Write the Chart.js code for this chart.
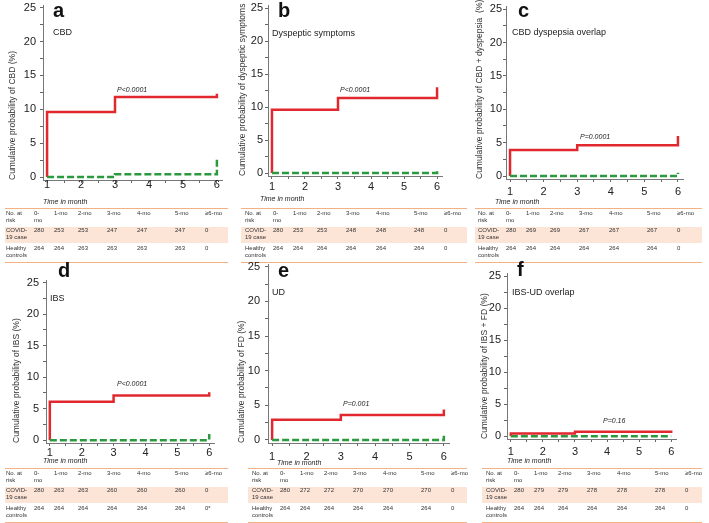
<!DOCTYPE html>
<html><head><meta charset="utf-8">
<script src="https://cdn.jsdelivr.net/npm/chart.js@4.4.0/dist/chart.umd.min.js"></script>
<style>
body{margin:0;width:709px;height:523px;background:#fff;position:relative;overflow:hidden;font-family:'Liberation Sans',Arial,sans-serif;}
canvas{position:absolute;}
.t{position:absolute;white-space:nowrap;line-height:1;transform:translateY(-50%);color:#222;}
.risk{position:absolute;border-collapse:collapse;table-layout:fixed;font-family:'Liberation Sans',Arial,sans-serif;font-size:6px;line-height:7px;color:#333;
  border-top:1px solid #f4b183;border-bottom:1px solid #f4b183;}
.risk td{vertical-align:top;padding:1px 0 0 0;white-space:pre;}
.risk tr.h td{height:17px;}
.risk tr.c td{height:16px;background:#fce4d6;padding-top:0;}
.risk tr.k td{height:17px;padding-top:2px;}
</style></head><body>
<script>
// ---------- data ----------
const X_TICK_LABELS = [1, 2, 3, 4, 5, 6];
const Y_TICK_LABELS = [0, 5, 10, 15, 20, 25];
const PANEL_LETTERS = ['a', 'b', 'c', 'd', 'e', 'f'];
const PANEL_TITLES = ['CBD', 'Dyspeptic symptoms', 'CBD dyspepsia overlap', 'IBS', 'UD', 'IBS-UD overlap'];
const Y_TITLES = [
  'Cumulative probability of CBD (%)',
  'Cumulative probability of dyspeptic symptoms  (%)',
  'Cumulative probability of CBD + dyspepsia  (%)',
  'Cumulative probability of IBS (%)',
  'Cumulative probability of FD (%)',
  'Cumulative probability of IBS + FD (%)'
];
const P_VALUES = ['P<0.0001', 'P<0.0001', 'P=0.0001', 'P<0.0001', 'P=0.001', 'P=0.16'];
const X_TITLE = 'Time in month';

// step times (month) and cumulative probabilities (%)
const COVID_TIMES = [1, 1, 3, 6];
const CONTROL_TIMES = [1, 3, 6];
const COVID_A = [0, 9.6, 11.8, 12.3];
const CONTROL_A = [0, 0.4, 2.7];
const COVID_B = [0, 9.6, 11.4, 13.0];
const CONTROL_B = [0, 0, 0.5];
const COVID_C = [0, 3.9, 4.6, 6.0];
const CONTROL_C = [0, 0, 0.5];
const COVID_D = [0, 6.1, 7.1, 7.6];
const CONTROL_D = [0, 0, 1.0];
const COVID_E = [0, 2.9, 3.6, 4.4];
const CONTROL_E = [0, 0, 0.6];
const COVID_F = [0, 0.4, 0.7, 0.9];
const CONTROL_F = [0, 0, 0];

// number at risk tables
const RISK_COLUMNS = ['No. at\nrisk', '0-\nmo', '1-mo', '2-mo', '3-mo', '4-mo', '5-mo', '≥6-mo'];
const RISK_ROW_LABELS = ['COVID-\n19 case', 'Healthy\ncontrols'];
const RISK_COVID_A = [280, 253, 253, 247, 247, 247, 0];
const RISK_CONTROL_A = [264, 264, 263, 263, 263, 263, 0];
const RISK_COVID_B = [280, 253, 253, 248, 248, 248, 0];
const RISK_CONTROL_B = [264, 264, 264, 264, 264, 264, 0];
const RISK_COVID_C = [280, 269, 269, 267, 267, 267, 0];
const RISK_CONTROL_C = [264, 264, 264, 264, 264, 264, 0];
const RISK_COVID_D = [280, 263, 263, 260, 260, 260, 0];
const RISK_CONTROL_D = [264, 264, 264, 264, 264, 264, '0*'];
const RISK_COVID_E = [280, 272, 272, 270, 270, 270, 0];
const RISK_CONTROL_E = [264, 264, 264, 264, 264, 264, 0];
const RISK_COVID_F = [280, 279, 279, 278, 278, 278, 0];
const RISK_CONTROL_F = [264, 264, 264, 264, 264, 264, 0];

// ---------- layout / style ----------
const RED = '#e0282e', GREEN = '#2b9a3e';
const FONT = "'Liberation Sans', Arial, sans-serif";
const PANELS = [
  {covid: COVID_A, ctrl: CONTROL_A, rc: RISK_COVID_A, rk: RISK_CONTROL_A,
   box: {l: 0, t: 0, w: 235, h: 215}, area: {l: 43, r: 222, t: 5, b: 180}, xpad: -5, ypad: 4, ytx: 13,
   letter: [53, 10], title: [53, 32], p: [117, 89], xt: [43, 201], table: {l: 5, t: 208, w: 223, pl: 1}},
  {covid: COVID_B, ctrl: CONTROL_B, rc: RISK_COVID_B, rk: RISK_CONTROL_B,
   box: {l: 235, t: 0, w: 235, h: 215}, area: {l: 268, r: 442, t: 5.5, b: 176}, xpad: 1.4, ypad: 2, ytx: 8,
   letter: [278, 10], title: [272, 33], p: [340, 89], xt: [260, 198], table: {l: 241, t: 208, w: 226, pl: 4}},
  {covid: COVID_C, ctrl: CONTROL_C, rc: RISK_COVID_C, rk: RISK_CONTROL_C,
   box: {l: 470, t: 0, w: 239, h: 215}, area: {l: 506, r: 683, t: 6.4, b: 179}, xpad: 3.4, ypad: 1, ytx: 10,
   letter: [518, 10], title: [512, 32], p: [580, 136], xt: [495, 201], table: {l: 475, t: 208, w: 227, pl: 3}},
  {covid: COVID_D, ctrl: CONTROL_D, rc: RISK_COVID_D, rk: RISK_CONTROL_D,
   box: {l: 0, t: 260, w: 235, h: 215}, area: {l: 46, r: 214, t: 280, b: 443}, xpad: 0.4, ypad: 4, ytx: 17,
   letter: [58, 270], title: [50, 298], p: [117, 383], xt: [43, 460], table: {l: 5, t: 468, w: 223, pl: 1}},
  {covid: COVID_E, ctrl: CONTROL_E, rc: RISK_COVID_E, rk: RISK_CONTROL_E,
   box: {l: 235, t: 260, w: 235, h: 215}, area: {l: 268, r: 449, t: 264, b: 443}, xpad: 4.4, ypad: 5, ytx: 7,
   letter: [278, 270], title: [272, 292], p: [343, 403], xt: [277, 462], table: {l: 248, t: 468, w: 219, pl: 4}},
  {covid: COVID_F, ctrl: CONTROL_F, rc: RISK_COVID_F, rk: RISK_CONTROL_F,
   box: {l: 470, t: 260, w: 239, h: 215}, area: {l: 507, r: 676, t: 273.6, b: 439}, xpad: 3.4, ypad: 3, ytx: 15,
   letter: [517, 269], title: [512, 292], p: [603, 420], xt: [507, 460], table: {l: 482, t: 468, w: 220, pl: 4}}
];
const COL_W = [28, 20, 24, 29, 30, 38, 30];

function withMinor(arr) {
  const out = [];
  arr.forEach((v, k) => { out.push(v); if (k < arr.length - 1) out.push((v + arr[k + 1]) / 2); });
  return out;
}

function addText(txt, x, y, css) {
  const d = document.createElement('div');
  d.className = 't';
  d.textContent = txt;
  d.style.left = x + 'px';
  d.style.top = y + 'px';
  Object.assign(d.style, css);
  document.body.appendChild(d);
}

function makeTable(P) {
  const tb = document.createElement('table');
  tb.className = 'risk';
  tb.style.left = P.table.l + 'px';
  tb.style.top = P.table.t + 'px';
  tb.style.width = P.table.w + 'px';
  const cg = document.createElement('colgroup');
  const widths = [P.table.pl + COL_W[0]].concat(COL_W.slice(1));
  widths.forEach(w => { const c = document.createElement('col'); c.style.width = w + 'px'; cg.appendChild(c); });
  cg.appendChild(document.createElement('col'));
  tb.appendChild(cg);
  const rows = [[RISK_COLUMNS, 'h'], [[RISK_ROW_LABELS[0]].concat(P.rc), 'c'], [[RISK_ROW_LABELS[1]].concat(P.rk), 'k']];
  rows.forEach(([cells, cls]) => {
    const tr = document.createElement('tr');
    tr.className = cls;
    cells.forEach((c, j) => {
      const td = document.createElement('td');
      td.textContent = String(c);
      if (j === 0) td.style.paddingLeft = P.table.pl + 'px';
      tr.appendChild(td);
    });
    tb.appendChild(tr);
  });
  document.body.appendChild(tb);
}

function makePanel(P, i) {
  const cv = document.createElement('canvas');
  cv.width = P.box.w; cv.height = P.box.h;
  cv.style.left = P.box.l + 'px'; cv.style.top = P.box.t + 'px';
  document.body.appendChild(cv);
  const yW = P.area.l - P.box.l;
  const xH = 26;
  const tickGrid = {display: true, drawOnChartArea: false, drawTicks: true, tickLength: 3, tickColor: '#666', tickWidth: 1};
  new Chart(cv, {
    type: 'line',
    data: {datasets: [
      {data: CONTROL_TIMES.map((t, k) => ({x: t, y: P.ctrl[k]})), borderColor: GREEN, borderWidth: 2.5,
       borderDash: [7, 3], stepped: true, pointRadius: 0, fill: false},
      {data: COVID_TIMES.map((t, k) => ({x: t, y: P.covid[k]})), borderColor: RED, borderWidth: 2.5,
       stepped: true, pointRadius: 0, fill: false}
    ]},
    options: {
      responsive: false, animation: false, devicePixelRatio: 1,
      layout: {padding: {left: 0, top: P.area.t - P.box.t, right: P.box.l + P.box.w - P.area.r,
                         bottom: P.box.t + P.box.h - P.area.b - xH}},
      plugins: {legend: {display: false}, tooltip: {enabled: false}},
      scales: {
        x: {type: 'linear', min: 0.88, max: 6.15,
            afterBuildTicks: s => { s.ticks = withMinor(X_TICK_LABELS).map(v => ({value: v})); },
            afterFit: s => { s.height = xH; s.paddingLeft = 0; s.paddingRight = 0; },
            ticks: {autoSkip: false, maxRotation: 0, padding: P.xpad, color: '#222', font: {family: FONT, size: 11},
                    callback: v => X_TICK_LABELS.includes(v) ? String(v) : ''},
            grid: tickGrid, border: {display: true, color: '#777', width: 1}},
        y: {type: 'linear', min: -0.44, max: 25.4,
            afterBuildTicks: s => { s.ticks = withMinor(Y_TICK_LABELS).map(v => ({value: v})); },
            afterFit: s => { s.width = yW; s.paddingTop = 0; s.paddingBottom = 0; },
            ticks: {autoSkip: false, padding: P.ypad, color: '#222', font: {family: FONT, size: 11},
                    callback: v => Y_TICK_LABELS.includes(v) ? String(v) : ''},
            title: {display: true, text: Y_TITLES[i], align: 'start', color: '#333',
                    font: {family: FONT, size: 8.5, lineHeight: 1}, padding: {top: P.ytx - 4.25, bottom: 0}},
            grid: tickGrid, border: {display: true, color: '#777', width: 1}}
      }
    }
  });
  addText(PANEL_LETTERS[i], P.letter[0], P.letter[1], {font: 'bold 20px ' + FONT, color: '#111'});
  addText(PANEL_TITLES[i], P.title[0], P.title[1], {font: '9px ' + FONT, color: '#222'});
  addText(P_VALUES[i], P.p[0], P.p[1], {font: 'italic 7px ' + FONT, color: '#222'});
  addText(X_TITLE, P.xt[0], P.xt[1], {font: 'italic 7px ' + FONT, color: '#222'});
  makeTable(P);
}

PANELS.forEach(makePanel);
</script>
</body></html>
